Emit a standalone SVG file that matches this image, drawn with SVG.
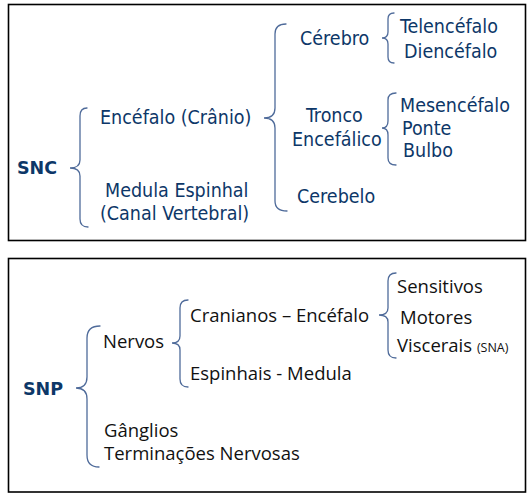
<svg xmlns="http://www.w3.org/2000/svg" width="531" height="497" viewBox="0 0 531 497">
<style>
.box{fill:#fff;stroke:#000;stroke-width:1.6}
.br{fill:none;stroke:#4f6b9a;stroke-width:1.3;stroke-linecap:round}
.t{font-family:"DejaVu Sans Condensed","DejaVu Sans",sans-serif;font-stretch:condensed;font-size:19.5px;fill:#0d3768}
.h{font-family:"DejaVu Sans",sans-serif;font-weight:bold;font-size:17.5px;fill:#0d3768}
.b{font-family:"Open Sans","Noto Sans",sans-serif;font-size:18.5px;fill:#111}
.s{font-family:"Open Sans","Noto Sans",sans-serif;font-size:12.5px;fill:#111}
</style>
<rect width="531" height="497" fill="#fff"/>
<g id="frames">
<rect class="box" x="8.5" y="4.5" width="517" height="236"/>
<rect class="box" x="8.5" y="258.5" width="517" height="233.5"/>
</g>
<g id="connectors">
<path class="br" d="M87,108 Q80,108 80,116 L80,160 Q80,168 70,168 Q80,168 80,176 L80,219 Q80,227 88,227"/>
<path class="br" d="M286,24 Q275,24 275,34 L275,108 Q275,118 264,118 Q275,118 275,128 L275,201 Q275,211 287,211"/>
<path class="br" d="M394,13 Q388,13 388,19 L388,32 Q388,38 382,38 Q388,38 388,44 L388,57 Q388,63 394,63"/>
<path class="br" d="M396,93 Q388,93 388,100 L388,121 Q388,128 382,128 Q388,128 388,135 L388,158 Q388,165 396,165"/>
<path class="br" d="M100,326 Q87,326 87,338 L87,377 Q87,388 76,388 Q87,388 87,399 L87,455 Q87,467 99,467"/>
<path class="br" d="M188,300 Q180,300 180,308 L180,336 Q180,343 172,343 Q180,343 180,350 L180,379 Q180,387 188,387"/>
<path class="br" d="M396,273 Q388,273 388,281 L388,308 Q388,315 379,315 Q388,315 388,322 L388,350 Q388,358 396,358"/>
</g>
<g id="snc"><text class="h" x="17" y="174">SNC</text></g>
<g id="encefalo"><text class="t" x="100" y="124">Encéfalo (Crânio)</text></g>
<g id="medula"><text class="t" x="105" y="197">Medula Espinhal</text><text class="t" x="100" y="220">(Canal Vertebral)</text></g>
<g id="cerebro"><text class="t" x="300" y="45">Cérebro</text></g>
<g id="telencefalo"><text class="t" x="400" y="33">Telencéfalo</text></g>
<g id="diencefalo"><text class="t" x="404" y="58">Diencéfalo</text></g>
<g id="tronco"><text class="t" x="306" y="122">Tronco</text><text class="t" x="292" y="146">Encefálico</text></g>
<g id="mesencefalo"><text class="t" x="400" y="112">Mesencéfalo</text></g>
<g id="ponte"><text class="t" x="402" y="135">Ponte</text></g>
<g id="bulbo"><text class="t" x="403" y="157">Bulbo</text></g>
<g id="cerebelo"><text class="t" x="297" y="203">Cerebelo</text></g>
<g id="snp"><text class="h" x="23" y="395">SNP</text></g>
<g id="nervos"><text class="b" x="103" y="348">Nervos</text></g>
<g id="cranianos"><text class="b" x="190" y="322">Cranianos – Encéfalo</text></g>
<g id="espinhais"><text class="b" x="190" y="380">Espinhais - Medula</text></g>
<g id="sensitivos"><text class="b" x="397" y="293">Sensitivos</text></g>
<g id="motores"><text class="b" x="400" y="324">Motores</text></g>
<g id="viscerais"><text class="b" x="397" y="352">Viscerais <tspan class="s">(SNA)</tspan></text></g>
<g id="ganglios"><text class="b" x="104" y="437">Gânglios</text></g>
<g id="terminacoes"><text class="b" x="104" y="460">Terminações Nervosas</text></g>
</svg>
